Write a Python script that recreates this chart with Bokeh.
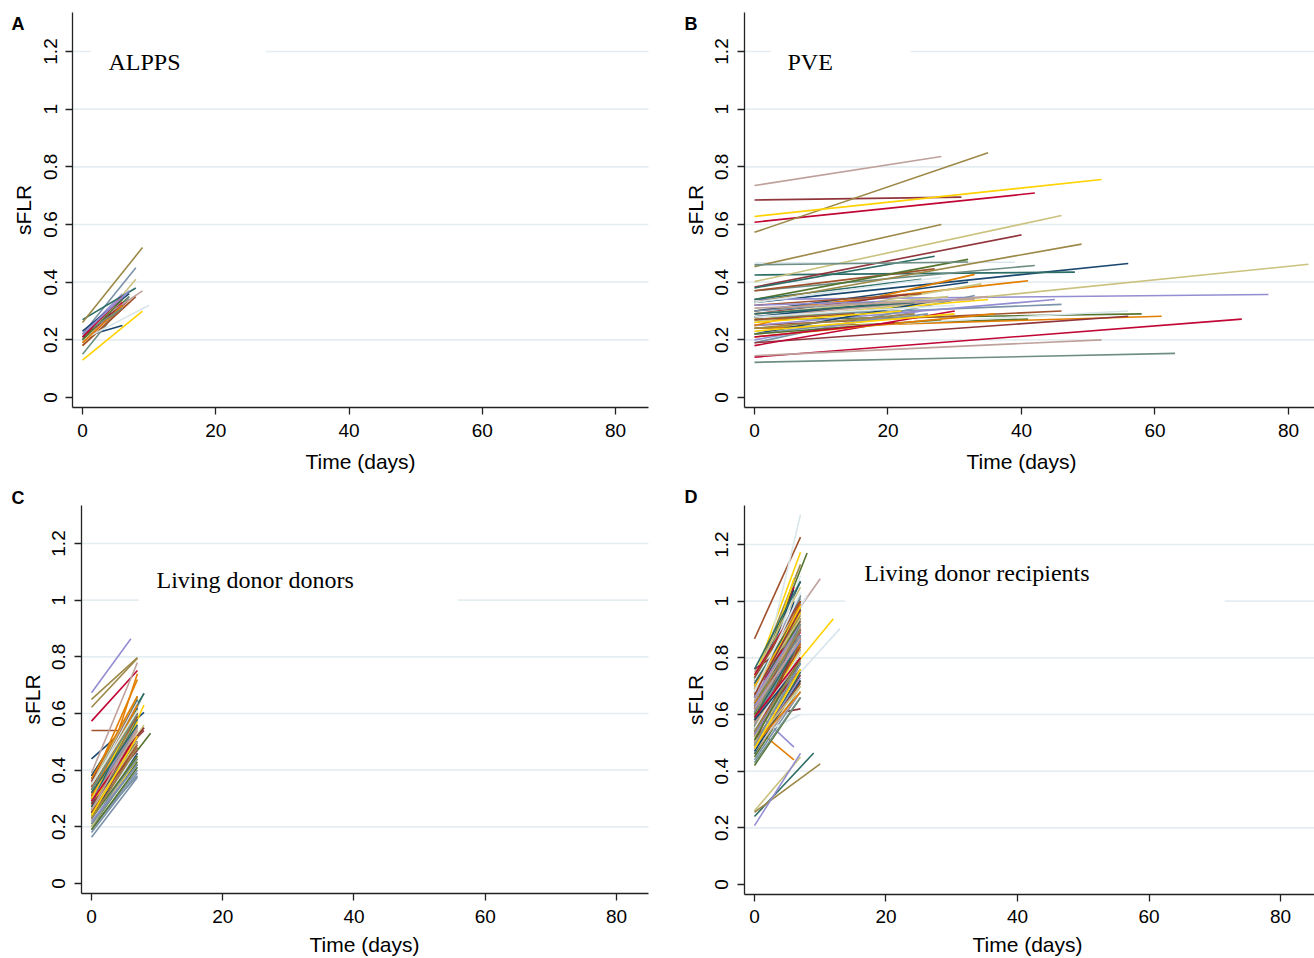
from bokeh.plotting import figure
from bokeh.models import (FixedTicker, CustomJSTickFormatter, Label, ColumnDataSource,
                          Range1d, LinearAxis)
from bokeh.layouts import column, row
from bokeh.embed import file_html
from bokeh.resources import INLINE

# Stata s2color palette (line colour cycles through it in id order)
PALETTE = ["#1a476f", "#90353b", "#55752f", "#e37e00", "#6e8e84", "#c10534",
           "#938dd2", "#cac27e", "#a0522d", "#7b92a8", "#2d6d66", "#9c8847",
           "#bfa19c", "#ffd200", "#d9e6eb"]

X_TICKS = [0, 20, 40, 60, 80]
Y_TICKS = [0, 0.2, 0.4, 0.6, 0.8, 1, 1.2]
Y_GRID = [0.2, 0.4, 0.6, 0.8, 1, 1.2]

# ---- A: ALPPS ----
alpps_start = [0.21, 0.19, 0.20, 0.18, 0.15, 0.20, 0.22, 0.19, 0.18, 0.22, 0.27, 0.26, 0.23, 0.13, 0.20,
               0.23, 0.21, 0.20, 0.19, 0.22, 0.21, 0.22]
alpps_day = [6, 7, 7, 7, 7, 6, 6, 8, 8, 8, 8, 9, 9, 9, 10,
             7, 6, 6, 6, 6, 6, 7]
alpps_end = [0.25, 0.34, 0.35, 0.33, 0.35, 0.33, 0.36, 0.41, 0.35, 0.45, 0.38, 0.52, 0.37, 0.30, 0.32,
             0.36, 0.32, 0.34, 0.32, 0.31, 0.35, 0.37]

# ---- B: PVE ----
pve_start = [0.33, 0.685, 0.27, 0.30, 0.122, 0.608, 0.34, 0.268, 0.25, 0.28, 0.425, 0.573, 0.735, 0.628, 0.466,
             0.30, 0.383, 0.24, 0.24, 0.37, 0.14, 0.25, 0.402, 0.37, 0.19, 0.38, 0.454, 0.145, 0.27, 0.23,
             0.22, 0.19, 0.34, 0.25, 0.46, 0.18, 0.20, 0.26, 0.32, 0.22, 0.34, 0.33, 0.28, 0.23, 0.33,
             0.28, 0.29, 0.22, 0.21, 0.27, 0.21, 0.32, 0.29, 0.27, 0.30, 0.29, 0.24, 0.31, 0.26, 0.28]
pve_day = [56, 31, 58, 41, 63, 42, 77, 83, 46, 46, 48, 35, 28, 52, 39,
           32, 40, 41, 61, 42, 73, 45, 46, 27, 33, 27, 28, 52, 35, 56,
           28, 56, 32, 33, 32, 30, 25, 34, 25, 26, 25, 49, 35, 30, 28,
           20, 23, 28, 36, 22, 21, 30, 29, 15, 18, 24, 24, 33, 22, 30]
pve_end = [0.465, 0.695, 0.29, 0.405, 0.153, 0.709, 0.357, 0.462, 0.30, 0.323, 0.435, 0.849, 0.836, 0.756, 0.469,
           0.40, 0.564, 0.272, 0.282, 0.458, 0.272, 0.34, 0.631, 0.446, 0.354, 0.49, 0.60, 0.20, 0.34, 0.30,
           0.34, 0.282, 0.479, 0.427, 0.47, 0.30, 0.30, 0.394, 0.36, 0.29, 0.41, 0.532, 0.35, 0.29, 0.417,
           0.33, 0.357, 0.27, 0.29, 0.31, 0.26, 0.34, 0.35, 0.29, 0.33, 0.33, 0.29, 0.34, 0.30, 0.32]

# ---- C: Living donor donors ----
ldd_start = [0.44, 0.33, 0.26, 0.25, 0.30, 0.573, 0.673, 0.31, 0.54, 0.163, 0.38, 0.65, 0.39, 0.22, 0.28,
             0.38, 0.35, 0.20, 0.33, 0.24, 0.34, 0.27, 0.28, 0.30, 0.18, 0.30, 0.622, 0.36, 0.21, 0.32,
             0.37, 0.29, 0.22, 0.35, 0.27, 0.26, 0.33, 0.24, 0.32, 0.20, 0.34, 0.27, 0.31, 0.25, 0.26,
             0.30, 0.36, 0.24, 0.29, 0.21, 0.31, 0.25, 0.35, 0.28, 0.19, 0.26, 0.30, 0.22, 0.27, 0.34,
             0.25, 0.32, 0.19, 0.37, 0.29, 0.23, 0.30, 0.20, 0.34, 0.23, 0.28, 0.33, 0.29, 0.30, 0.22,
             0.27, 0.28, 0.23, 0.31, 0.33, 0.29, 0.22, 0.26, 0.25, 0.21, 0.32, 0.23, 0.26, 0.24, 0.35]
ldd_day = [8, 7, 9, 7, 8, 7, 6, 7, 4, 7, 8, 7, 7, 8, 7,
           7, 8, 7, 7, 7, 7, 7, 8, 7, 7, 7, 7, 7, 7, 7,
           7, 7, 7, 7, 7, 7, 7, 7, 7, 7, 7, 8, 6, 6, 7,
           7, 7, 7, 6, 7, 7, 7, 7, 7, 7, 7, 7, 7, 7, 7,
           7, 8, 7, 7, 7, 7, 7, 7, 7, 7, 7, 7, 7, 7, 7,
           7, 7, 7, 7, 7, 7, 7, 7, 7, 7, 7, 7, 7, 7, 7]
ldd_end = [0.604, 0.55, 0.53, 0.74, 0.672, 0.752, 0.864, 0.60, 0.54, 0.375, 0.67, 0.797, 0.78, 0.63, 0.52,
           0.62, 0.54, 0.43, 0.66, 0.50, 0.64, 0.47, 0.56, 0.58, 0.39, 0.65, 0.795, 0.60, 0.44, 0.58,
           0.60, 0.56, 0.42, 0.72, 0.62, 0.50, 0.62, 0.54, 0.50, 0.38, 0.66, 0.55, 0.58, 0.43, 0.48,
           0.55, 0.64, 0.44, 0.58, 0.46, 0.60, 0.52, 0.66, 0.52, 0.40, 0.58, 0.59, 0.50, 0.57, 0.64,
           0.46, 0.55, 0.41, 0.66, 0.55, 0.48, 0.56, 0.45, 0.59, 0.44, 0.62, 0.63, 0.54, 0.61, 0.47,
           0.50, 0.47, 0.45, 0.63, 0.60, 0.52, 0.42, 0.50, 0.49, 0.42, 0.56, 0.48, 0.55, 0.52, 0.61]

# ---- D: Living donor recipients ----
ldr_start = [0.55, 0.68, 0.70, 0.555, 0.60, 0.62, 0.615, 0.26, 0.867, 0.58, 0.24, 0.255, 0.75, 0.73, 0.62,
             0.66, 0.58, 0.49, 0.52, 0.47, 0.64, 0.208, 0.66, 0.70, 0.52, 0.63, 0.72, 0.60, 0.60, 0.57,
             0.50, 0.59, 0.45, 0.62, 0.55, 0.68, 0.70, 0.57, 0.53, 0.44, 0.66, 0.59, 0.54, 0.64, 0.52,
             0.72, 0.48, 0.60, 0.46, 0.69, 0.50, 0.56, 0.74, 0.62, 0.67, 0.46, 0.58, 0.69, 0.53, 0.72,
             0.61, 0.76, 0.56, 0.58, 0.52, 0.71, 0.48, 0.61, 0.66, 0.73, 0.54, 0.68, 0.47, 0.70, 0.64,
             0.64, 0.53, 0.63, 0.69, 0.65, 0.56, 0.66, 0.52, 0.57, 0.61, 0.71, 0.50, 0.65, 0.56, 0.47,
             0.47, 0.62, 0.42, 0.64, 0.58, 0.74, 0.53, 0.69, 0.49, 0.56, 0.59, 0.63, 0.57, 0.67, 0.55,
             0.58, 0.67, 0.51, 0.49, 0.43, 0.59, 0.63, 0.50, 0.73, 0.49, 0.76, 0.54, 0.62, 0.48, 0.68]
ldr_day = [6, 7, 8, 6, 7, 6, 6, 7, 7, 7, 9, 10, 10, 7, 7,
           6, 7, 7, 6, 7, 6, 7, 7, 7, 7, 7, 7, 7, 12, 13,
           7, 7, 7, 6, 6, 7, 7, 7, 7, 7, 7, 7, 7, 6, 7,
           7, 7, 7, 7, 7, 7, 7, 7, 7, 7, 7, 7, 7, 7, 8,
           7, 7, 7, 7, 7, 7, 7, 7, 7, 7, 7, 7, 7, 7, 7,
           7, 7, 7, 7, 7, 7, 7, 7, 7, 7, 7, 7, 7, 7, 7,
           7, 7, 7, 7, 7, 7, 7, 7, 7, 7, 7, 7, 7, 7, 7,
           7, 7, 7, 7, 7, 7, 7, 7, 7, 7, 7, 7, 7, 7, 7]
ldr_end = [1.00, 0.91, 1.17, 0.44, 0.85, 1.05, 0.485, 0.45, 1.226, 0.80, 0.464, 0.426, 1.079, 1.173, 1.306,
           1.04, 0.90, 0.98, 0.82, 0.72, 0.98, 0.463, 1.02, 0.96, 0.83, 1.00, 1.13, 0.94, 0.938, 0.903,
           0.88, 0.62, 0.70, 0.92, 0.95, 0.89, 0.78, 0.87, 0.80, 0.68, 1.02, 0.87, 0.83, 1.08, 0.60,
           1.07, 0.74, 1.00, 0.72, 1.01, 0.85, 0.90, 1.05, 0.93, 0.96, 0.75, 0.97, 0.99, 0.84, 1.02,
           0.94, 0.87, 0.86, 0.80, 0.78, 0.90, 0.73, 0.92, 0.91, 1.02, 0.82, 0.95, 0.68, 0.96, 1.09,
           0.86, 0.87, 0.94, 0.99, 0.88, 0.76, 0.92, 0.76, 0.84, 0.90, 0.97, 0.76, 0.91, 0.82, 0.70,
           0.72, 0.90, 0.66, 0.85, 0.92, 1.00, 0.79, 0.94, 0.71, 0.88, 0.86, 0.90, 0.80, 0.98, 0.82,
           0.78, 0.97, 0.80, 0.68, 0.66, 0.80, 0.86, 0.70, 1.00, 0.78, 1.07, 0.79, 0.87, 0.76, 1.03]

SANS = "Liberation Sans"
SERIF = "Liberation Serif"


def make_panel(letter, name, y0s, days, y1s, w, h, xr, yr, x_axis_at, y_axis_at,
               x_end, y_top, letter_pos, name_pos, box, xtitle_pos):
    # The frame fills the whole figure; axes are pinned at fixed data locations.
    p = figure(width=w, height=h, x_range=Range1d(*xr), y_range=Range1d(*yr),
               output_backend="svg", toolbar_location=None,
               x_axis_type=None, y_axis_type=None,
               min_border=0, min_border_left=0, min_border_right=0,
               min_border_top=0, min_border_bottom=0,
               outline_line_color=None, background_fill_color="white", border_fill_color="white")

    # horizontal grid lines, starting at the y axis
    p.segment(x0=y_axis_at, x1=x_end, y0=Y_GRID, y1=Y_GRID,
              line_color="#e4edf0", line_width=1.7, level="underlay")

    # white box behind the panel caption
    p.quad(left=[box[0]], right=[box[1]], bottom=[box[2]], top=[box[3]],
           fill_color="white", line_color=None)
    src = ColumnDataSource(dict(
        xs=[[0, d] for d in days],
        ys=[[a, b] for a, b in zip(y0s, y1s)],
        color=[PALETTE[i % len(PALETTE)] for i in range(len(days))],
    ))
    p.multi_line(xs="xs", ys="ys", line_color="color", line_width=1.6, source=src)

    xaxis = LinearAxis(ticker=FixedTicker(ticks=X_TICKS), fixed_location=x_axis_at,
                       bounds=(y_axis_at, x_end))
    yaxis = LinearAxis(ticker=FixedTicker(ticks=Y_TICKS), fixed_location=y_axis_at,
                       bounds=(x_axis_at, y_top), axis_label="sFLR",
                       formatter=CustomJSTickFormatter(code="return String(Math.round(tick*10)/10);"))
    yaxis.major_label_orientation = "vertical"
    for ax in (xaxis, yaxis):
        ax.axis_label_text_font = SANS
        ax.axis_label_text_font_size = "21px"
        ax.axis_label_text_font_style = "normal"
        ax.axis_label_text_color = "black"
        ax.major_label_text_font = SANS
        ax.major_label_text_font_size = "19px"
        ax.major_label_text_color = "black"
        ax.axis_line_color = "#222222"
        ax.axis_line_width = 1.3
        ax.major_tick_line_color = "#222222"
        ax.major_tick_line_width = 1.3
        ax.major_tick_in = 0
        ax.major_tick_out = 7
        ax.minor_tick_line_color = None
    yaxis.major_label_standoff = 9
    yaxis.axis_label_standoff = 6
    xaxis.major_label_standoff = 9
    p.add_layout(yaxis, "left")
    p.add_layout(xaxis, "below")

    p.add_layout(Label(x=xtitle_pos[0], y=xtitle_pos[1], text="Time (days)", text_font=SANS,
                       text_font_size="21px", text_color="black",
                       text_baseline="middle", text_align="center"))
    p.add_layout(Label(x=letter_pos[0], y=letter_pos[1], text=letter, text_font=SANS,
                       text_font_style="bold", text_font_size="18px", text_color="black",
                       text_baseline="middle", text_align="left"))
    p.add_layout(Label(x=name_pos[0], y=name_pos[1], text=name, text_font=SERIF,
                       text_font_size="24px", text_color="black",
                       text_baseline="middle", text_align="left"))
    return p


pA = make_panel("A", "ALPPS", alpps_start, alpps_day, alpps_end,
                657, 478, (-12.31, 86.30), (-0.2809, 1.3769), -0.0347, -1.50, 84.95, 1.3353,
                (-10.66, 1.297), (3.9, 1.162), (1.2, 27.5, 1.09, 1.24), (41.73, -0.222))
pB = make_panel("B", "PVE", pve_start, pve_day, pve_end,
                657, 478, (-14.53, 83.90), (-0.2809, 1.3769), -0.0347, -1.50, 83.90, 1.3353,
                (-10.49, 1.297), (4.94, 1.162), (2.4, 23.4, 1.09, 1.24), (40.0, -0.222))
pC = make_panel("C", "Living donor donors", ldd_start, ldd_day, ldd_end,
                657, 480, (-13.867, 86.25), (-0.2647, 1.4294), -0.0353, -1.524, 84.88, 1.334,
                (-12.19, 1.362), (9.9, 1.07), (7.2, 55.8, 0.98, 1.16), (41.6, -0.2153))
pD = make_panel("D", "Living donor recipients", ldr_start, ldr_day, ldr_end,
                657, 480, (-14.75, 85.17), (-0.2612, 1.433), -0.0353, -1.521, 85.17, 1.3376,
                (-10.65, 1.366), (16.7, 1.098), (13.8, 71.5, 0.985, 1.18), (41.52, -0.2118))

layout = column(row(pA, pB), row(pC, pD))
open("out.html", "w").write(file_html(layout, INLINE))
